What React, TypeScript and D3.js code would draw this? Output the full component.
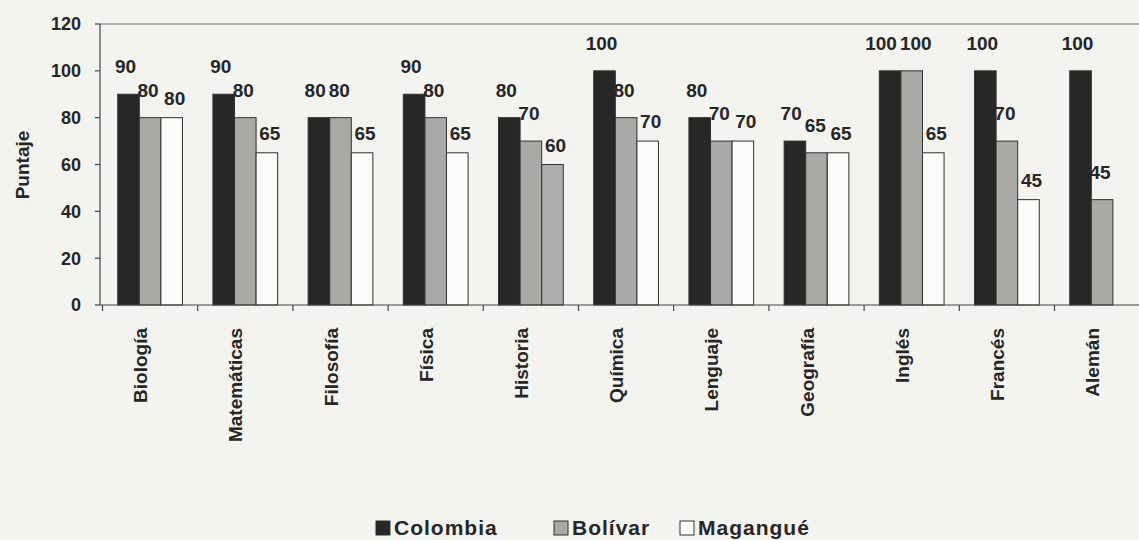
import React from "react";
import * as d3 from "d3";

const categories = ["Biología", "Matemáticas", "Filosofía", "Física", "Historia", "Química", "Lenguaje", "Geografía", "Inglés", "Francés", "Alemán"];
const seriesNames = ["Colombia", "Bolívar", "Magangué"];
const colombia = [90, 90, 80, 90, 80, 100, 80, 70, 100, 100, 100];
const bolivar = [80, 80, 80, 80, 70, 80, 70, 65, 100, 70, 45];
const magangue: (number | null)[] = [80, 65, 65, 65, 60, 70, 70, 65, 65, 45, null];
const yTicks = [0, 20, 40, 60, 80, 100, 120];
const yTitle = "Puntaje";
// In the printed chart this Magangué bar came out grey
const greyPrinted = ["Historia|Magangué"];

const W = 1139;
const H = 540;
const FONT = "'Liberation Sans', Arial, Helvetica, sans-serif";
const INK = "#262626";
const fills: Record<string, string> = { Colombia: "#272727", "Bolívar": "#a9a9a6", "Magangué": "#fbfbf9" };
const labelDx: Record<string, number> = { Colombia: -3, "Bolívar": -2, "Magangué": 3 };
const labelDy: Record<string, number> = { Colombia: -21, "Bolívar": -21, "Magangué": -13 };
const LABEL_FS = 19;
const DIGIT_W = 0.556 * LABEL_FS;

export default function App() {
  const left = 102.5;
  const step = 95.2;
  const x = d3.scaleBand<string>().domain(categories).range([left, left + step * categories.length]).padding(0);
  const bw = x.bandwidth();
  const xs = d3.scaleBand<string>().domain(seriesNames).range([bw * 0.16, bw * 0.84]).padding(0);
  const y = d3.scaleLinear().domain([0, 120]).range([305, 24]);

  const seriesValues: Record<string, (number | null)[]> = {
    Colombia: colombia,
    "Bolívar": bolivar,
    "Magangué": magangue,
  };

  const bars: JSX.Element[] = [];
  const labels: JSX.Element[] = [];
  categories.forEach((c, i) => {
    const group: { key: string; v: number; cx: number; by: number; w: number }[] = [];
    seriesNames.forEach((s) => {
      const v = seriesValues[s][i];
      if (v == null) return;
      const bx = (x(c) as number) + (xs(s) as number);
      const top = y(v);
      const fill = greyPrinted.includes(`${c}|${s}`) ? "#acacaa" : fills[s];
      bars.push(
        <rect key={`b-${c}-${s}`} x={bx} y={top} width={xs.bandwidth()} height={y(0) - top}
          fill={fill} stroke="#303030" strokeWidth={1} />
      );
      group.push({
        key: `l-${c}-${s}`,
        v,
        cx: bx + xs.bandwidth() / 2 + labelDx[s],
        by: top + labelDy[s],
        w: String(v).length * DIGIT_W,
      });
    });
    // push apart overlapping labels at the same height
    for (let k = 0; k < group.length - 1; k++) {
      const a = group[k];
      const b = group[k + 1];
      if (Math.abs(a.by - b.by) < 14) {
        const need = (a.w + b.w) / 2 + 3;
        const have = b.cx - a.cx;
        if (have < need) {
          const d = (need - have) / 2;
          a.cx -= d;
          b.cx += d;
        }
      }
    }
    group.forEach((g) => {
      labels.push(
        <text key={g.key} x={g.cx} y={g.by} textAnchor="middle" fontSize={LABEL_FS} fontWeight="bold"
          fontFamily={FONT} fill={INK}>{g.v}</text>
      );
    });
  });

  const boundaries = categories.map((c) => x(c) as number);
  const legendX = [376, 554, 680];

  return (
    <svg width={W} height={H} style={{ position: "absolute", left: 0, top: 0, background: "#f3f3f0" }}>
      <rect x={0} y={0} width={W} height={H} fill="#f3f3f0" />
      <line x1={100} x2={W} y1={y(120)} y2={y(120)} stroke="#6a6a6a" strokeWidth={1} />
      <line x1={100} x2={100} y1={y(120)} y2={y(0)} stroke="#444" strokeWidth={1.2} />
      {yTicks.map((t) => (
        <g key={`yt-${t}`}>
          <line x1={95} x2={100} y1={y(t)} y2={y(t)} stroke="#444" strokeWidth={1.2} />
          <text x={81} y={y(t)} dy="0.36em" textAnchor="end" fontSize={18} fontWeight="bold" fontFamily={FONT} fill={INK}>{t}</text>
        </g>
      ))}
      <text transform={`translate(29,165) rotate(-90)`} textAnchor="middle" fontSize={19} fontWeight="bold" fontFamily={FONT} fill={INK}>{yTitle}</text>
      {bars}
      <line x1={100} x2={W} y1={y(0)} y2={y(0)} stroke="#444" strokeWidth={1.2} />
      {boundaries.map((bx, i) => (
        <line key={`xt-${i}`} x1={bx} x2={bx} y1={y(0)} y2={y(0) + 6} stroke="#444" strokeWidth={1.2} />
      ))}
      {categories.map((c) => {
        const cx = (x(c) as number) + bw / 2 - 3;
        return (
          <text key={`xl-${c}`} transform={`translate(${cx},328) rotate(-90)`} textAnchor="end"
            fontSize={19} fontWeight="bold" fontFamily={FONT} fill={INK}>{c}</text>
        );
      })}
      {labels}
      {seriesNames.map((s, i) => (
        <g key={`lg-${s}`}>
          <rect x={legendX[i]} y={521} width={14} height={14} fill={fills[s]} stroke="#303030" strokeWidth={1} />
          <text x={legendX[i] + 18} y={535} fontSize={21} fontWeight="bold" fontFamily={FONT} fill={INK} letterSpacing={1}>{s}</text>
        </g>
      ))}
    </svg>
  );
}
